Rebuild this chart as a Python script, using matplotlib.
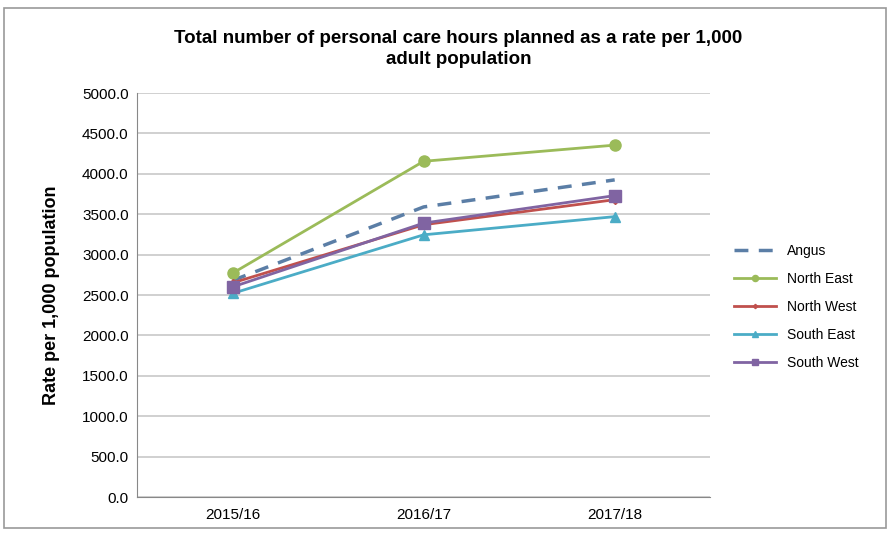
import numpy as np
import matplotlib
matplotlib.use('Agg')
import matplotlib.pyplot as plt

plt.rcParams['font.family'] = ['Liberation Sans', 'DejaVu Sans']

# Data
years = ['2015/16', '2016/17', '2017/18']
angus = [2680, 3590, 3925]
north_east = [2770, 4155, 4355]
north_west = [2650, 3370, 3680]
south_east = [2520, 3245, 3470]
south_west = [2600, 3390, 3730]

fig = plt.figure(figsize=(8.9, 5.33), dpi=100)
ax = fig.add_axes([0.154, 0.0675, 0.644, 0.758])

x = np.arange(len(years))
ax.plot(x, angus, color='#5b7ea6', lw=2.5, ls=(0, (4, 3)), label='Angus')
ax.plot(x, north_east, color='#9bbb59', lw=2, marker='o', ms=8, label='North East')
ax.plot(x, north_west, color='#c0504d', lw=2, marker='D', ms=4, label='North West')
ax.plot(x, south_east, color='#4bacc6', lw=2, marker='^', ms=7, label='South East')
ax.plot(x, south_west, color='#8064a2', lw=2, marker='s', ms=8, label='South West')

ax.set_xlim(-0.5, 2.5)
ax.set_ylim(0, 5000)
ax.set_xticks(x)
ax.set_xticklabels(years, fontsize=11)
ax.set_yticks(np.arange(0, 5001, 500))
ax.set_yticklabels(['%.1f' % v for v in np.arange(0, 5001, 500)], fontsize=11)
ax.grid(axis='y', color='#c8c8c8', lw=1.2)
ax.set_axisbelow(True)
for s in ['top', 'right']:
    ax.spines[s].set_visible(False)
ax.spines['left'].set_color('#888888')
ax.spines['bottom'].set_color('#888888')
ax.tick_params(axis='y', length=0, pad=6)
ax.tick_params(axis='x', length=0, pad=8)

ax.set_ylabel('Rate per 1,000 population', fontsize=13, fontweight='bold', labelpad=16)
fig.text(0.515, 0.908, 'Total number of personal care hours planned as a rate per 1,000\nadult population',
         ha='center', va='center', fontsize=13.5, fontweight='bold', linespacing=1.35)

ax.legend(loc='center left', bbox_to_anchor=(1.02, 0.47), frameon=False, fontsize=10,
          handlelength=3, labelspacing=1.0, markerscale=0.55)

fig.patches.append(plt.Rectangle((0.005, 0.01), 0.99, 0.975, transform=fig.transFigure,
                                 fill=False, edgecolor='#999999', lw=1.2))

plt.savefig('out.png', dpi=100)
